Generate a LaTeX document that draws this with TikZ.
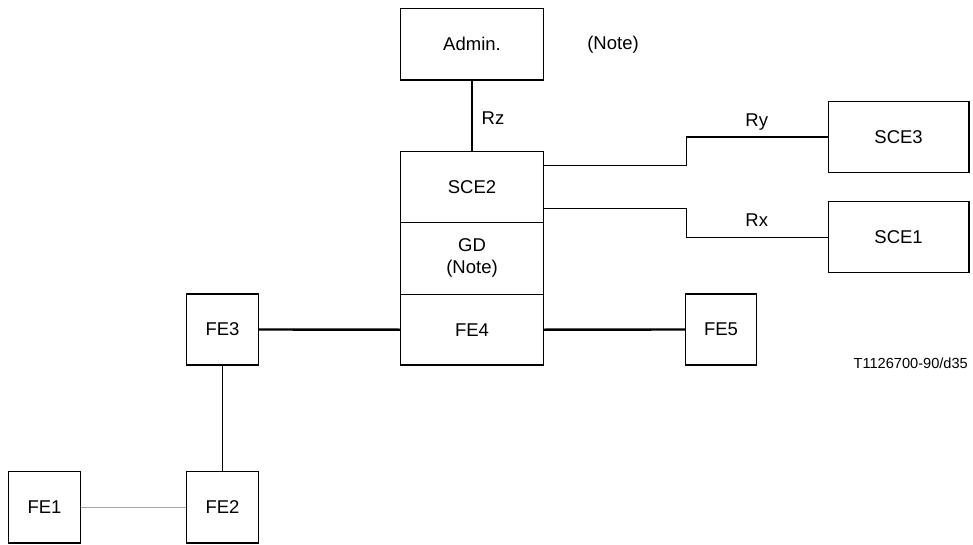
\documentclass[tikz,border=0pt]{standalone}
\usepackage{fontspec}
\setmainfont{Liberation Sans}
\begin{document}
\begin{tikzpicture}[x=1pt,y=-1pt,
  every node/.style={font=\fontsize{18.5}{22}\selectfont, inner sep=0pt},
  box/.style={draw=black, line width=1.3pt, rectangle, align=center},
  link/.style={draw=black, line width=1.4pt},
  thick link/.style={draw=black, line width=2.4pt},
  thin link/.style={draw=gray!70, line width=1.1pt},
  lbl/.style={}]
\useasboundingbox (0,0) rectangle (973,545);
% boxes
\node[box, minimum width=142.6pt, minimum height=71.7pt] (admin) at (472,44.2) {Admin.};
\node[box, minimum width=142.6pt, minimum height=70.6pt] (sce2) at (472,187) {SCE2};
\node[box, minimum width=142.6pt, minimum height=72pt] (gd) at (472,258.3) {GD\\(Note)};
\node[box, minimum width=142.6pt, minimum height=70.7pt] (fe4) at (472,329.7) {FE4};
\node[box, minimum width=140.7pt, minimum height=71pt] (sce3) at (898.6,137.2) {SCE3};
\node[box, minimum width=140.7pt, minimum height=71pt] (sce1) at (898.6,237.2) {SCE1};
\node[box, minimum width=71.6pt, minimum height=71pt] (fe3) at (222.5,329.5) {FE3};
\node[box, minimum width=70.6pt, minimum height=71pt] (fe5) at (721,329.5) {FE5};
\node[box, minimum width=71.6pt, minimum height=71.3pt] (fe2) at (222.5,507.4) {FE2};
\node[box, minimum width=72.4pt, minimum height=71.3pt] (fe1) at (44.5,507.4) {FE1};
% texts
\node (note) at (613,45) {(Note)};
\node (rz) at (493,118) {Rz};
\node (ry) at (756.7,121.7) {Ry};
\node (rx) at (756.7,220) {Rx};
\node[font=\fontsize{14.6}{17}\selectfont, anchor=east] (code) at (968,363) {T1126700-90/d35};
% connectors
\draw[link] (admin.south) -- (sce2.north);
\draw[link] ([yshift=21.3pt]sce2.east) -- ++(142.4,0) |- (sce3.west);
\draw[link] ([yshift=-21.3pt]sce2.east) -- ++(142.7,0) |- (sce1.west);
\draw[thick link] (fe3.east) -- (fe4.west);
\draw[thick link] (fe4.east) -- (fe5.west);
\draw[link] (fe3.south) -- (fe2.north);
\draw[thin link] (fe1.east) -- (fe2.west);
\end{tikzpicture}
\end{document}
